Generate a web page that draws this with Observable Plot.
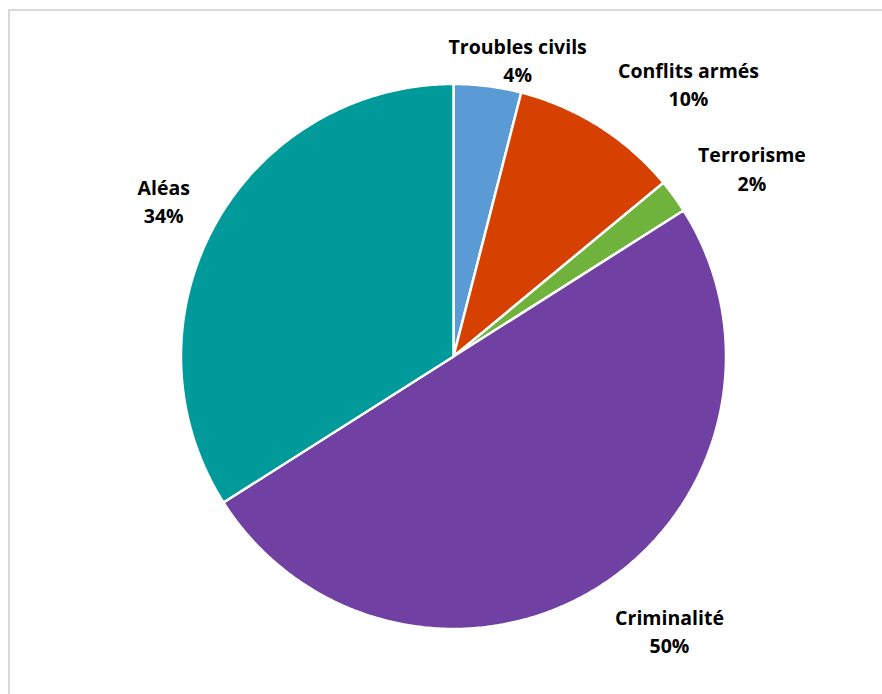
<!DOCTYPE html>
<html>
<head>
<meta charset="utf-8">
<script src="https://cdn.jsdelivr.net/npm/d3@7"></script>
<script src="https://cdn.jsdelivr.net/npm/@observablehq/plot@0.6"></script>
<style>
  html, body { margin: 0; padding: 0; background: #fff; overflow: hidden; }
  #frame { position: absolute; left: 8px; top: 9px; width: 900px; height: 720px; border: 2px solid #d9d9d9; box-sizing: border-box; }
  #chart { position: absolute; left: 0; top: 0; }
</style>
</head>
<body>
<div id="frame"></div>
<div id="chart"></div>
<script>
const categories = ["Troubles civils", "Conflits armés", "Terrorisme", "Criminalité", "Aléas"];
const values = [4, 10, 2, 50, 34];
const colors = ["#5b9bd5", "#d64000", "#6fb33d", "#7040a2", "#009a9a"];

// layout (pixels relative to pie centre)
const W = 882, H = 694, CX = 453, CY = 356, R = 272.5;
// label nudges (pixels) from arc point at mid-angle
const labelOffset = [[30, -27.5], [89, -43.5], [78, -29], [70, 43], [-51, -25]];

const total = d3.sum(values);
let acc = 0;
const rows = [];
const labels = [];
categories.forEach((cat, i) => {
  const a0 = acc / total * 2 * Math.PI;
  acc += values[i];
  const a1 = acc / total * 2 * Math.PI;
  rows.push({cat, x: 0, y: 0});
  const n = Math.max(2, Math.ceil((a1 - a0) / (Math.PI / 360)));
  for (let k = 0; k <= n; k++) {
    const a = a0 + (a1 - a0) * k / n;
    rows.push({cat, x: R * Math.sin(a), y: -R * Math.cos(a)});
  }
  rows.push({cat, x: 0, y: 0});
  const am = (a0 + a1) / 2;
  labels.push({
    cat,
    text: cat + "\n" + Math.round(values[i] / total * 100) + "%",
    x: R * Math.sin(am) + labelOffset[i][0],
    y: -R * Math.cos(am) + labelOffset[i][1]
  });
});

const chart = Plot.plot({
  width: W,
  height: H,
  margin: 0,
  style: {background: "transparent"},
  x: {domain: [-CX, W - CX], range: [0, W], axis: null},
  y: {domain: [-CY, H - CY], range: [0, H], axis: null},
  color: {domain: categories, range: colors},
  marks: [
    Plot.line(rows, {x: "x", y: "y", z: "cat", fill: "cat", stroke: "white", strokeWidth: 2.5, strokeLinejoin: "round", curve: "linear"}),
    Plot.text(labels, {x: "x", y: "y", text: "text", fill: "#000", fontSize: 19.5, fontWeight: "bold", fontFamily: "Open Sans", lineHeight: 1.45, textAnchor: "middle"})
  ]
});
document.getElementById("chart").appendChild(chart);
</script>
</body>
</html>
